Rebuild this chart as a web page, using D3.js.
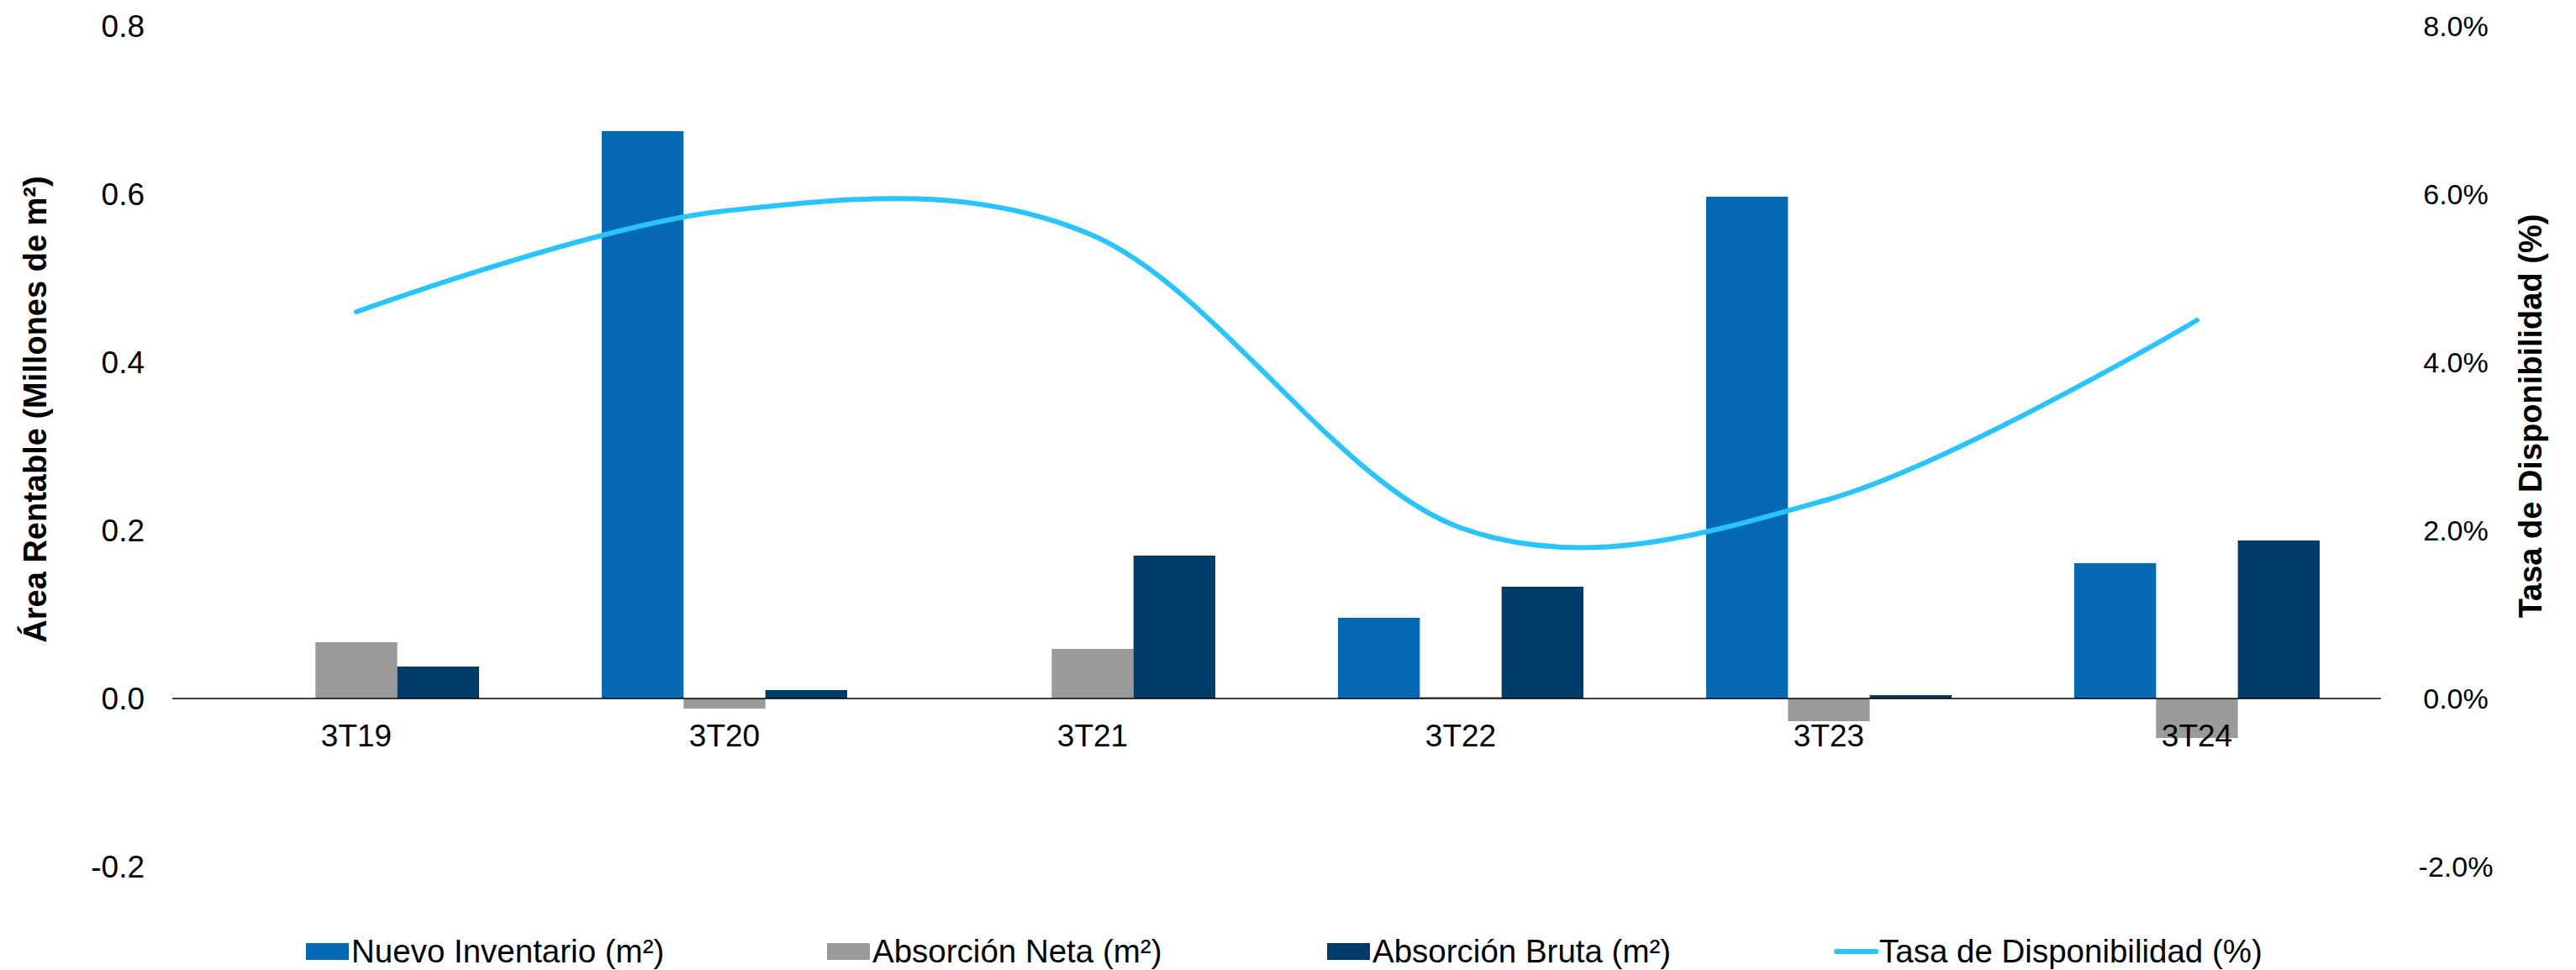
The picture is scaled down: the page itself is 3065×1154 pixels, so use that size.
<!DOCTYPE html>
<html>
<head>
<meta charset="utf-8">
<script src="https://cdn.jsdelivr.net/npm/d3@7"></script>
<style>
  html, body { margin: 0; padding: 0; background: #ffffff; }
  svg { display: block; }
  text { font-family: "Liberation Sans", Arial, Helvetica, sans-serif; fill: #000; }
</style>
</head>
<body>
<svg id="chart" width="3065" height="1154"></svg>
<script>
// ---- data ----
const categories = ["3T19", "3T20", "3T21", "3T22", "3T23", "3T24"];
const nuevoInventario = [0, 0.675, 0, 0.096, 0.597, 0.161];
const absorcionNeta   = [0.067, -0.012, 0.059, 0.002, -0.027, -0.047];
const absorcionBruta  = [0.038, 0.010, 0.170, 0.133, 0.004, 0.188];
const tasaDisponibilidad = [4.60, 5.80, 5.51, 2.03, 2.37, 4.50];
const leftTicks  = [-0.2, 0.0, 0.2, 0.4, 0.6, 0.8];
const rightTicks = [-2, 0, 2, 4, 6, 8];
const seriesNames = ["Nuevo Inventario (m²)", "Absorción Neta (m²)", "Absorción Bruta (m²)", "Tasa de Disponibilidad (%)"];
const colors = ["#0569B3", "#9A9A9A", "#003C69", "#29C4FF"];

// ---- layout ----
const svg = d3.select("#chart");
const plot = { left: 205, right: 2833, top: 31, bottom: 1031 };

const x0 = d3.scaleBand().domain(categories).range([plot.left, plot.right])
  .paddingInner(1/3).paddingOuter(1/6);
const barSeries = [nuevoInventario, absorcionNeta, absorcionBruta];
const x1 = d3.scaleBand().domain(d3.range(barSeries.length)).range([0, x0.bandwidth()]).padding(0);
const yL = d3.scaleLinear().domain([-0.2, 0.8]).range([plot.bottom, plot.top]);
const yR = d3.scaleLinear().domain([-2, 8]).range([plot.bottom, plot.top]);

// hyphen-minus formatting (as in the original)
const fmt1 = v => d3.format(".1f")(v).replace("\u2212", "-");

// bars
barSeries.forEach((vals, si) => {
  svg.append("g").selectAll("rect").data(vals).join("rect")
    .attr("x", (d, i) => x0(categories[i]) + x1(si))
    .attr("width", x1.bandwidth())
    .attr("y", d => yL(Math.max(0, d)))
    .attr("height", d => Math.abs(yL(d) - yL(0)))
    .attr("fill", colors[si]);
});

// zero axis line
svg.append("line")
  .attr("x1", plot.left).attr("x2", plot.right)
  .attr("y1", yL(0)).attr("y2", yL(0))
  .attr("stroke", "#000").attr("stroke-width", 1.5);

// line series
const line = d3.line()
  .x((d, i) => x0(categories[i]) + x0.bandwidth() / 2)
  .y(d => yR(d))
  .curve(d3.curveCatmullRom.alpha(0));
svg.append("path").datum(tasaDisponibilidad)
  .attr("d", line)
  .attr("fill", "none")
  .attr("stroke", colors[3])
  .attr("stroke-width", 6)
  .attr("stroke-linecap", "round");

// left axis
const leftAxis = d3.axisLeft(yL).tickValues(leftTicks).tickFormat(fmt1).tickSize(0).tickPadding(0);
const gL = svg.append("g").attr("transform", `translate(172,0)`).call(leftAxis);
gL.select(".domain").remove();
gL.selectAll("text").attr("font-size", 37).attr("font-family", "Liberation Sans, Arial, sans-serif").attr("fill", "#000").attr("dy", "0.35em");

// right axis
const rightAxis = d3.axisRight(yR).tickValues(rightTicks).tickFormat(d => fmt1(d) + "%").tickSize(0).tickPadding(0);
const gR = svg.append("g").attr("transform", `translate(2922,0)`).call(rightAxis);
gR.select(".domain").remove();
gR.selectAll("text").attr("font-size", 34).attr("text-anchor", "middle").attr("font-family", "Liberation Sans, Arial, sans-serif").attr("fill", "#000").attr("dy", "0.35em");

// category labels
const gX = svg.append("g").attr("transform", `translate(0,${yL(0)})`)
  .call(d3.axisBottom(x0).tickSize(0).tickPadding(0));
gX.select(".domain").remove();
gX.selectAll("text").attr("font-size", 37).attr("font-family", "Liberation Sans, Arial, sans-serif").attr("fill", "#000").attr("dy", "1.55em");

// axis titles
svg.append("text")
  .attr("transform", "translate(55,487) rotate(-90)")
  .attr("text-anchor", "middle")
  .attr("font-size", 38).attr("font-weight", "bold")
  .text("Área Rentable (Millones de m²)");
svg.append("text")
  .attr("transform", "translate(3024,495) rotate(-90)")
  .attr("text-anchor", "middle")
  .attr("font-size", 38).attr("font-weight", "bold")
  .text("Tasa de Disponibilidad (%)");

// legend
const legendX = [364, 984, 1579, 2182];
const legendY = 1132;
const lg = svg.append("g");
seriesNames.forEach((name, i) => {
  const g = lg.append("g").attr("transform", `translate(${legendX[i]},${legendY})`);
  if (i < 3) {
    g.append("rect").attr("x", 0).attr("y", -10).attr("width", 51).attr("height", 20).attr("fill", colors[i]);
  } else {
    g.append("line").attr("x1", 3).attr("x2", 50).attr("y1", 0).attr("y2", 0)
      .attr("stroke", colors[i]).attr("stroke-width", 6).attr("stroke-linecap", "round");
  }
  g.append("text").attr("x", 54).attr("y", 0).attr("dy", "0.35em")
    .attr("font-size", 38.5).text(name);
});
</script>
</body>
</html>
